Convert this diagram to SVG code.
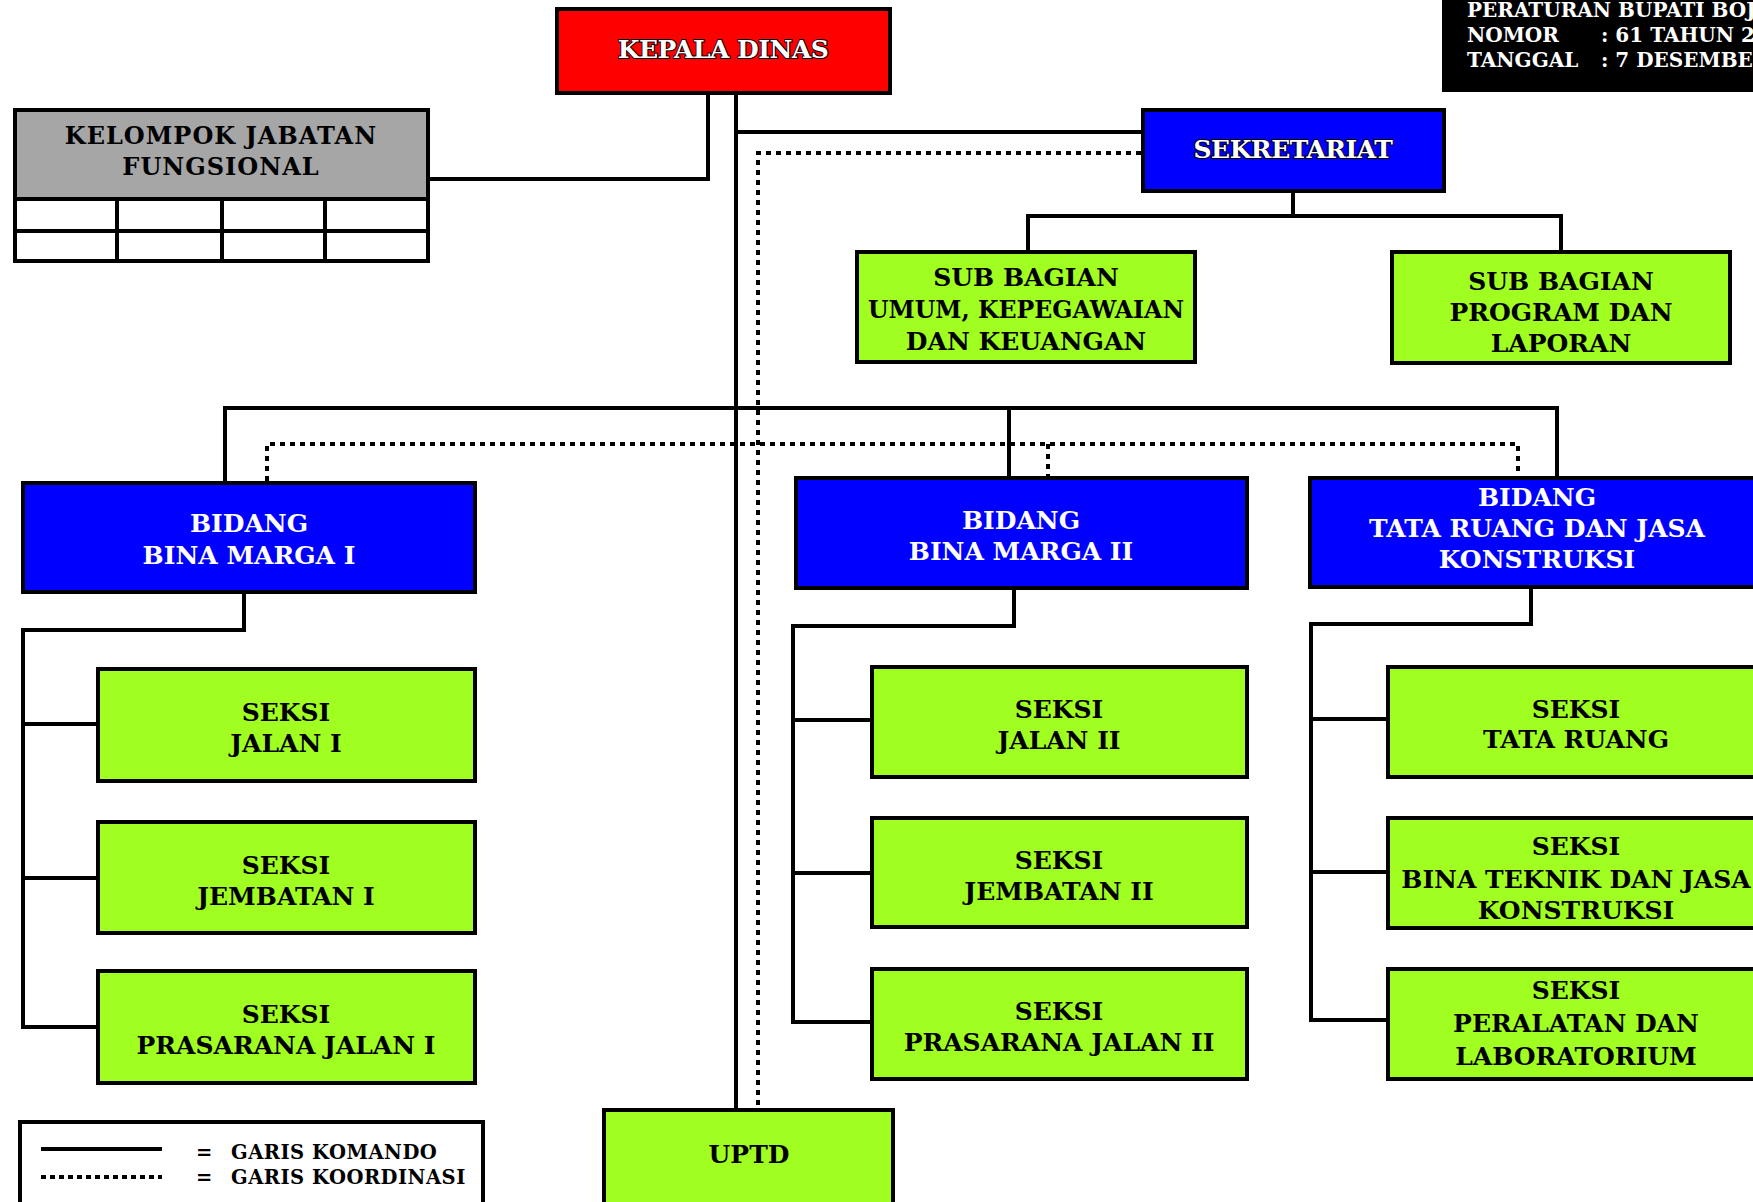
<svg xmlns="http://www.w3.org/2000/svg" width="1753" height="1202" viewBox="0 0 1753 1202">
<style>
.box{stroke:#000;stroke-width:4}
.red{fill:#FF0000}
.blue{fill:#0000FF}
.green{fill:#A0FF20}
.gray{fill:#A6A6A6}
.white{fill:#FFFFFF}
.t{font-family:"DejaVu Serif","Liberation Serif",serif;font-weight:bold;font-size:25px;text-anchor:middle}
.tb{fill:#000}
.tw{fill:#FFF}
.to{fill:#FFF;stroke:#000;stroke-width:2;paint-order:stroke;letter-spacing:-0.5px}
.solid{fill:none;stroke:#000;stroke-width:4;stroke-linejoin:miter}
.dot{fill:none;stroke:#000;stroke-width:4;stroke-dasharray:5 5}
.hdr{font-family:"DejaVu Serif","Liberation Serif",serif;font-weight:bold;font-size:20px;fill:#FFF}
.leg{font-family:"DejaVu Serif","Liberation Serif",serif;font-weight:bold;font-size:19.5px;fill:#000;letter-spacing:0.5px}
</style>

<g id="header">
<rect x="1442" y="-5" width="320" height="97" fill="#000"/>
<text class="hdr" x="1467" y="17">PERATURAN BUPATI BOJONEGORO</text>
<text class="hdr" x="1467" y="42">NOMOR</text>
<text class="hdr" x="1601" y="42">: 61 TAHUN 2016</text>
<text class="hdr" x="1467" y="67">TANGGAL</text>
<text class="hdr" x="1601" y="67">: 7 DESEMBER 2016</text>
</g>

<g id="connectors">
<path class="solid" d="M708,93 V179 H430"/>
<path class="solid" d="M736,93 V1110"/>
<path class="solid" d="M736,132 H1143"/>
<path class="solid" d="M1293,192 V216"/>
<path class="solid" d="M1028,252 V216 H1561 V252"/>
<path class="solid" d="M225,483 V408 H1557 V478"/>
<path class="solid" d="M1009,408 V478"/>
<path class="solid" d="M244,592 V630 H23 V1027 H98"/>
<path class="solid" d="M23,724 H98 M23,878 H98"/>
<path class="solid" d="M1014,588 V626 H793 V1022 H872"/>
<path class="solid" d="M793,720 H872 M793,873 H872"/>
<path class="solid" d="M1531,587 V624 H1311 V1020 H1388"/>
<path class="solid" d="M1311,719 H1388 M1311,872 H1388"/>
<path class="dot" d="M1141,153 H758 V1108"/>
<path class="dot" d="M267,481 V444 H1518 V476"/>
<path class="dot" d="M1048,444 V476"/>
</g>

<g id="kepala-dinas">
<rect class="box red" x="557" y="9" width="333" height="84"/>
<text class="t to" x="723" y="58">KEPALA DINAS</text>
</g>

<g id="kelompok-jabatan-fungsional">
<rect class="box gray" x="15" y="110" width="413" height="89"/>
<rect class="box white" x="15" y="199" width="413" height="62"/>
<path class="solid" d="M15,231 H428 M117,199 V261 M222,199 V261 M325,199 V261"/>
<text class="t tb" x="221" y="144" style="font-size:24px;letter-spacing:1px">KELOMPOK JABATAN</text>
<text class="t tb" x="221" y="175" style="font-size:24px;letter-spacing:1px">FUNGSIONAL</text>
</g>

<g id="sekretariat">
<rect class="box blue" x="1143" y="110" width="301" height="81"/>
<text class="t to" x="1293" y="158">SEKRETARIAT</text>
</g>

<g id="sub-bagian-umum">
<rect class="box green" x="857" y="252" width="338" height="110"/>
<text class="t tb" x="1026" y="286">SUB BAGIAN</text>
<text class="t tb" x="1026" y="318" textLength="316" lengthAdjust="spacingAndGlyphs">UMUM, KEPEGAWAIAN</text>
<text class="t tb" x="1026" y="350">DAN KEUANGAN</text>
</g>

<g id="sub-bagian-program">
<rect class="box green" x="1392" y="252" width="338" height="111"/>
<text class="t tb" x="1561" y="290">SUB BAGIAN</text>
<text class="t tb" x="1561" y="321">PROGRAM DAN</text>
<text class="t tb" x="1561" y="352">LAPORAN</text>
</g>

<g id="bidang-bina-marga-1">
<rect class="box blue" x="23" y="483" width="452" height="109"/>
<text class="t tw" x="249" y="532">BIDANG</text>
<text class="t tw" x="249" y="564">BINA MARGA I</text>
</g>

<g id="bidang-bina-marga-2">
<rect class="box blue" x="796" y="478" width="451" height="110"/>
<text class="t tw" x="1021" y="529">BIDANG</text>
<text class="t tw" x="1021" y="560">BINA MARGA II</text>
</g>

<g id="bidang-tata-ruang">
<rect class="box blue" x="1310" y="478" width="454" height="109"/>
<text class="t tw" x="1537" y="506">BIDANG</text>
<text class="t tw" x="1537" y="537">TATA RUANG DAN JASA</text>
<text class="t tw" x="1537" y="568">KONSTRUKSI</text>
</g>

<g id="seksi-jalan-1">
<rect class="box green" x="98" y="669" width="377" height="112"/>
<text class="t tb" x="286" y="721">SEKSI</text>
<text class="t tb" x="286" y="752">JALAN I</text>
</g>

<g id="seksi-jembatan-1">
<rect class="box green" x="98" y="822" width="377" height="111"/>
<text class="t tb" x="286" y="874">SEKSI</text>
<text class="t tb" x="286" y="905">JEMBATAN I</text>
</g>

<g id="seksi-prasarana-jalan-1">
<rect class="box green" x="98" y="971" width="377" height="112"/>
<text class="t tb" x="286" y="1023">SEKSI</text>
<text class="t tb" x="286" y="1054">PRASARANA JALAN I</text>
</g>

<g id="seksi-jalan-2">
<rect class="box green" x="872" y="667" width="375" height="110"/>
<text class="t tb" x="1059" y="718">SEKSI</text>
<text class="t tb" x="1059" y="749">JALAN II</text>
</g>

<g id="seksi-jembatan-2">
<rect class="box green" x="872" y="818" width="375" height="109"/>
<text class="t tb" x="1059" y="869">SEKSI</text>
<text class="t tb" x="1059" y="900">JEMBATAN II</text>
</g>

<g id="seksi-prasarana-jalan-2">
<rect class="box green" x="872" y="969" width="375" height="110"/>
<text class="t tb" x="1059" y="1020">SEKSI</text>
<text class="t tb" x="1059" y="1051">PRASARANA JALAN II</text>
</g>

<g id="seksi-tata-ruang">
<rect class="box green" x="1388" y="667" width="376" height="110"/>
<text class="t tb" x="1576" y="718">SEKSI</text>
<text class="t tb" x="1576" y="748">TATA RUANG</text>
</g>

<g id="seksi-bina-teknik">
<rect class="box green" x="1388" y="818" width="376" height="110"/>
<text class="t tb" x="1576" y="855">SEKSI</text>
<text class="t tb" x="1576" y="888">BINA TEKNIK DAN JASA</text>
<text class="t tb" x="1576" y="919">KONSTRUKSI</text>
</g>

<g id="seksi-peralatan">
<rect class="box green" x="1388" y="969" width="376" height="110"/>
<text class="t tb" x="1576" y="999">SEKSI</text>
<text class="t tb" x="1576" y="1032">PERALATAN DAN</text>
<text class="t tb" x="1576" y="1065">LABORATORIUM</text>
</g>

<g id="uptd">
<rect class="box green" x="604" y="1110" width="289" height="100"/>
<text class="t tb" x="749" y="1163">UPTD</text>
</g>

<g id="legend">
<rect class="box white" x="20" y="1122" width="463" height="90"/>
<line x1="41" y1="1149" x2="162" y2="1149" stroke="#000" stroke-width="4"/>
<line x1="41" y1="1177" x2="162" y2="1177" stroke="#000" stroke-width="4" stroke-dasharray="5 4"/>
<text class="leg" x="196" y="1159">=</text>
<text class="leg" x="231" y="1159">GARIS KOMANDO</text>
<text class="leg" x="196" y="1184">=</text>
<text class="leg" x="231" y="1184">GARIS KOORDINASI</text>
</g>
</svg>
